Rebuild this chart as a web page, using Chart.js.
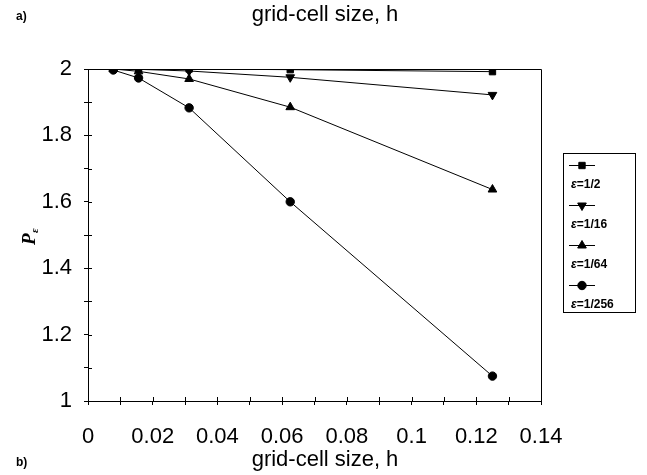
<!DOCTYPE html>
<html>
<head>
<meta charset="utf-8">
<script src="https://cdn.jsdelivr.net/npm/chart.js@4.4.0/dist/chart.umd.min.js"></script>
<style>
  html, body { margin:0; padding:0; background:#fff; }
  #wrap { position:relative; width:647px; height:475px; }
</style>
</head>
<body>
<div id="wrap"><canvas id="chart" width="647" height="475"></canvas></div>
<script>
/* ---- data ---- */
const hValues   = [0.0078125, 0.015625, 0.03125, 0.0625, 0.125];
const epsLabels = ['ε=1/2', 'ε=1/16', 'ε=1/64', 'ε=1/256'];
const pHalf     = [2.000, 2.000, 2.000, 1.998, 1.992];
const p16       = [2.000, 1.999, 1.994, 1.975, 1.922];
const p64       = [2.000, 1.993, 1.970, 1.885, 1.637];
const p256      = [1.997, 1.973, 1.883, 1.600, 1.075];
const xTicks    = [0, 0.02, 0.04, 0.06, 0.08, 0.1, 0.12, 0.14];
const yTicks    = [1, 1.2, 1.4, 1.6, 1.8, 2];

const markers = [
  { style:'rect',     radius:4.5, rotation:0   },
  { style:'triangle', radius:5,   rotation:180 },
  { style:'triangle', radius:5,   rotation:0   },
  { style:'circle',   radius:4.2, rotation:0   }
];
const seriesVals = [pHalf, p16, p64, p256];

const datasets = seriesVals.map((vals, i) => ({
  label: epsLabels[i],
  data: vals.map((v, j) => ({ x: hValues[j], y: v })),
  borderColor: '#000',
  backgroundColor: '#000',
  borderWidth: 1,
  pointStyle: markers[i].style,
  pointRadius: markers[i].radius,
  pointRotation: markers[i].rotation,
  pointBackgroundColor: '#000',
  pointBorderColor: '#000',
  showLine: true,
  tension: 0
}));

const near = (v, list) => list.some(t => Math.abs(v - t) < 1e-6);
const fmt  = v => String(Number(v.toFixed(2)));
const SANS = '"Liberation Sans", Arial, sans-serif';

/* ---- extra drawing: frame, inner tick halves, titles, legend ---- */
const decor = {
  id: 'decor',
  afterDraw(chart) {
    const { ctx, chartArea: a, scales } = chart;
    ctx.save();
    ctx.strokeStyle = '#000';
    ctx.lineWidth = 1;
    ctx.beginPath();
    ctx.moveTo(a.left, a.top + 0.5);
    ctx.lineTo(a.right + 0.5, a.top + 0.5);
    ctx.lineTo(a.right + 0.5, a.bottom);
    ctx.stroke();

    // ticks cross the axes in the reference: add the inner half
    ctx.beginPath();
    scales.x.ticks.forEach(t => {
      const px = Math.round(scales.x.getPixelForValue(t.value)) + 0.5;
      ctx.moveTo(px, a.bottom); ctx.lineTo(px, a.bottom - 4);
    });
    scales.y.ticks.forEach(t => {
      const py = Math.round(scales.y.getPixelForValue(t.value)) + 0.5;
      ctx.moveTo(a.left, py); ctx.lineTo(a.left + 4, py);
    });
    ctx.stroke();

    ctx.fillStyle = '#000';
    ctx.textAlign = 'center';
    ctx.textBaseline = 'middle';
    ctx.font = '22px ' + SANS;
    ctx.fillText('grid-cell size, h', 325, 15);
    ctx.fillText('grid-cell size, h', 325, 460);

    ctx.textAlign = 'left';
    ctx.font = 'bold 12px ' + SANS;
    ctx.fillText('a)', 16, 17);
    ctx.fillText('b)', 16, 463);

    // y-axis title P_eps, rotated
    ctx.save();
    ctx.translate(30, 237);
    ctx.rotate(-Math.PI / 2);
    ctx.textAlign = 'left';
    ctx.font = 'italic bold 19px "Liberation Serif", "Times New Roman", serif';
    ctx.fillText('P', -8, 0);
    ctx.font = 'italic bold 11px "Liberation Serif", "Times New Roman", serif';
    ctx.fillText('ε', 4, 5);
    ctx.restore();

    // legend box
    const lx = 563, ly = 153, lw = 72, lh = 159;
    ctx.strokeRect(lx + 0.5, ly + 0.5, lw, lh);
    chart.data.datasets.forEach((ds, i) => {
      const my = 165 + i * 40;
      ctx.beginPath();
      ctx.moveTo(569, my + 0.5);
      ctx.lineTo(595, my + 0.5);
      ctx.stroke();
      Chart.helpers.drawPoint(ctx, {
        pointStyle: ds.pointStyle,
        radius: ds.pointRadius,
        rotation: ds.pointRotation,
        borderWidth: 1
      }, 582, my + 0.5);
      ctx.font = 'italic bold 12px ' + SANS;
      ctx.fillText('ε', 571, my + 20);
      const w = ctx.measureText('ε').width;
      ctx.font = 'bold 12px ' + SANS;
      ctx.fillText(ds.label.slice(1), 571 + w, my + 20);
    });
    ctx.restore();
  }
};

new Chart(document.getElementById('chart'), {
  type: 'scatter',
  data: { datasets },
  options: {
    responsive: false,
    animation: false,
    layout: { padding: { top: 69, right: 106, left: 0, bottom: 0 } },
    plugins: { legend: { display: false }, tooltip: { enabled: false } },
    scales: {
      x: {
        type: 'linear', min: 0, max: 0.14,
        afterFit: s => { s.height = 74; },
        border: { display: true, color: '#000', width: 1 },
        grid: { display: true, drawOnChartArea: false, color: '#000', tickLength: 4 },
        ticks: {
          stepSize: 0.01, color: '#000', padding: 19,
          font: { family: SANS, size: 22 },
          maxRotation: 0, autoSkip: false,
          callback: v => near(v, xTicks) ? fmt(v) : ''
        }
      },
      y: {
        type: 'linear', min: 1, max: 2,
        afterFit: s => { s.width = 88; },
        border: { display: true, color: '#000', width: 1 },
        grid: { display: true, drawOnChartArea: false, color: '#000', tickLength: 4 },
        ticks: {
          stepSize: 0.1, color: '#000', padding: 12,
          font: { family: SANS, size: 22 },
          autoSkip: false,
          callback: v => near(v, yTicks) ? fmt(v) : ''
        }
      }
    }
  },
  plugins: [decor]
});
</script>
</body>
</html>
